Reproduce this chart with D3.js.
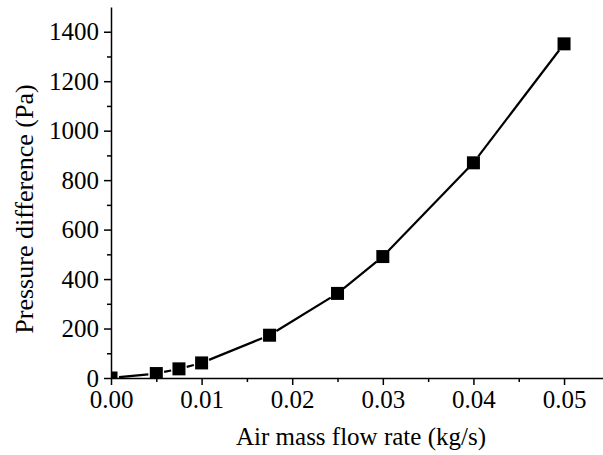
<!DOCTYPE html>
<html>
<head>
<meta charset="utf-8">
<script src="https://d3js.org/d3.v7.min.js"></script>
<style>
  body { margin: 0; background: #fff; }
  .serif { font-family: "Liberation Serif"; fill: #000; }
</style>
</head>
<body>
<svg width="603" height="455"></svg>
<script>
// data
var flowRate = [0, 0.005, 0.0075, 0.01, 0.0175, 0.025, 0.03, 0.04, 0.05];
var pressureDiff = [0, 18, 37, 61, 173, 342, 491, 870, 1351];
var xTicks = [0, 0.01, 0.02, 0.03, 0.04, 0.05];
var yTicks = [0, 200, 400, 600, 800, 1000, 1200, 1400];

var margin = {left: 111, top: 7, right: 0, bottom: 77};
var W = 603, H = 455;

var svg = d3.select("svg");
var g = svg.append("g").attr("transform", "translate(" + margin.left + "," + margin.top + ")");
var w = W - margin.left - margin.right, h = H - margin.top - margin.bottom;

var x = d3.scaleLinear().domain([0, 0.0543]).range([0, w]);
var y = d3.scaleLinear().domain([0, 1500]).range([h, 0]);

svg.append("clipPath").attr("id", "plot")
  .append("rect").attr("x", 0).attr("y", 0).attr("width", w).attr("height", h);

// minor ticks first
var xMinor = d3.range(0.005, 0.054, 0.01);
var yMinor = d3.range(100, 1500, 200);
g.append("g").attr("transform", "translate(0," + h + ")")
  .call(d3.axisBottom(x).tickValues(xMinor).tickSize(4).tickFormat(""))
  .call(function(a) { a.select(".domain").remove(); a.selectAll("line").attr("stroke-width", 1.5); });
g.append("g")
  .call(d3.axisLeft(y).tickValues(yMinor).tickSize(4).tickFormat(""))
  .call(function(a) { a.select(".domain").remove(); a.selectAll("line").attr("stroke-width", 1.5); });

// line segments with gaps at the markers
var pts = flowRate.map(function(d, i) { return [x(d), y(pressureDiff[i])]; });
var plot = g.append("g").attr("clip-path", "url(#plot)");
var gap = 8;
for (var i = 0; i < pts.length - 1; i++) {
  var p = pts[i], q = pts[i + 1];
  var dx = q[0] - p[0], dy = q[1] - p[1], len = Math.sqrt(dx * dx + dy * dy);
  if (len <= 2 * gap) continue;
  var ux = dx / len, uy = dy / len;
  plot.append("line")
    .attr("x1", p[0] + ux * gap).attr("y1", p[1] + uy * gap)
    .attr("x2", q[0] - ux * gap).attr("y2", q[1] - uy * gap)
    .attr("stroke", "#000").attr("stroke-width", 2.2);
}

var ms = 13;
plot.selectAll("rect.m").data(pts).enter().append("rect")
  .attr("class", "m")
  .attr("x", function(d) { return d[0] - ms / 2; })
  .attr("y", function(d) { return d[1] - ms / 2; })
  .attr("width", ms).attr("height", ms)
  .attr("fill", "#000");

var xa = g.append("g").attr("transform", "translate(0," + h + ")")
  .call(d3.axisBottom(x).tickValues(xTicks).tickSize(7).tickSizeOuter(0).tickPadding(6).tickFormat(d3.format(".2f")));
var ya = g.append("g")
  .call(d3.axisLeft(y).tickValues(yTicks).tickSize(7).tickSizeOuter(0).tickPadding(5).tickFormat(d3.format("d")));
[xa, ya].forEach(function(a) {
  a.attr("font-family", "Liberation Serif").attr("font-size", 25);
  a.select(".domain").attr("stroke-width", 1.5);
  a.selectAll(".tick line").attr("stroke-width", 1.5);
  a.selectAll("text").attr("class", "serif");
});
xa.selectAll("text").attr("y", 0).attr("dy", 30);

svg.append("text")
  .attr("class", "serif")
  .attr("x", 361).attr("y", 445)
  .attr("text-anchor", "middle")
  .attr("font-size", 25)
  .text("Air mass flow rate (kg/s)");

svg.append("text")
  .attr("class", "serif")
  .attr("transform", "translate(33,209) rotate(-90)")
  .attr("text-anchor", "middle")
  .attr("font-size", 26)
  .text("Pressure difference (Pa)");
</script>
</body>
</html>
